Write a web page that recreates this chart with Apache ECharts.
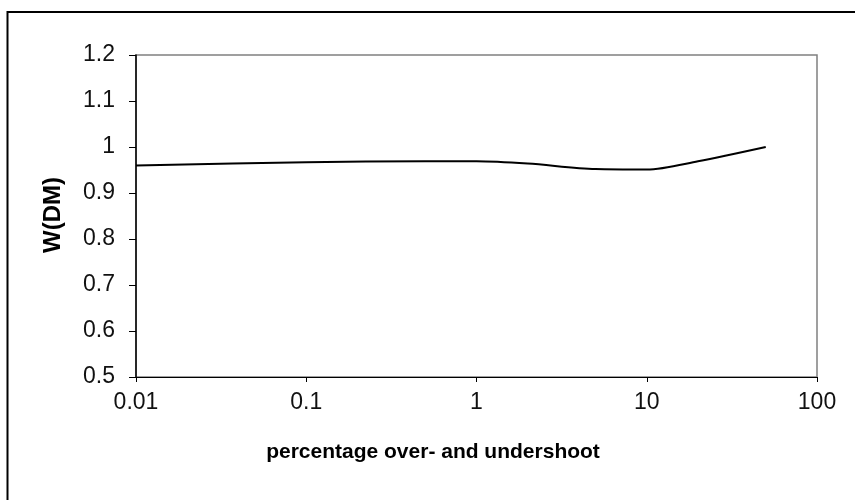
<!DOCTYPE html>
<html>
<head>
<meta charset="utf-8">
<script src="https://cdn.jsdelivr.net/npm/echarts@6/dist/echarts.min.js"></script>
<style>html,body{margin:0;padding:0;background:#fff}#c{width:855px;height:500px}</style>
</head>
<body>
<div id="c"></div>
<script>
const xValues = [0.01, 0.1, 0.5, 1, 2, 5, 10, 20, 50];
const yValues = [0.96, 0.967, 0.969, 0.969, 0.964, 0.952, 0.951, 0.969, 1.0];
const xTitle = 'percentage over- and undershoot';
const yTitle = 'W(DM)';

const chart = echarts.init(document.getElementById('c'), null, {renderer: 'canvas'});
const font = '"Liberation Sans", Arial, sans-serif';
chart.setOption({
  animation: false,
  backgroundColor: '#fff',
  grid: {left: 136, top: 55, right: 38, bottom: 123, show: true, borderColor: '#808080', borderWidth: 1.5, backgroundColor: 'transparent'},
  xAxis: {
    type: 'log', logBase: 10, min: 0.01, max: 100,
    axisLine: {show: true, onZero: false, lineStyle: {color: '#000', width: 1}},
    axisTick: {show: true, inside: false, length: 5, lineStyle: {color: '#000'}},
    minorTick: {show: false},
    splitLine: {show: false},
    axisLabel: {color: '#111', fontSize: 23, fontFamily: font, margin: 14,
      formatter: v => String(+v.toPrecision(3))}
  },
  yAxis: {
    type: 'value', min: 0.5, max: 1.2, interval: 0.1,
    axisLine: {show: true, lineStyle: {color: '#000', width: 1.5}},
    axisTick: {show: true, inside: false, length: 7, lineStyle: {color: '#000'}},
    splitLine: {show: false},
    axisLabel: {color: '#111', fontSize: 23, fontFamily: font, margin: 21,
      formatter: v => String(Math.round(v * 10) / 10)}
  },
  series: [{
    type: 'line',
    data: xValues.map((x, i) => [x, yValues[i]]),
    showSymbol: false,
    smooth: 0.3,
    lineStyle: {color: '#000', width: 2}
  }],
  graphic: [
    {type: 'rect', shape: {x: 7.5, y: 12, width: 900, height: 600}, style: {fill: 'none', stroke: '#000', lineWidth: 2}, silent: true},
    {type: 'text', x: 433, y: 452, style: {text: xTitle, font: 'bold 21px ' + font, fill: '#000', textAlign: 'center', textVerticalAlign: 'middle'}},
    {type: 'text', x: 53, y: 215, rotation: Math.PI / 2, style: {text: yTitle, font: 'bold 24px ' + font, fill: '#000', textAlign: 'center', textVerticalAlign: 'middle'}}
  ]
});
</script>
</body>
</html>
